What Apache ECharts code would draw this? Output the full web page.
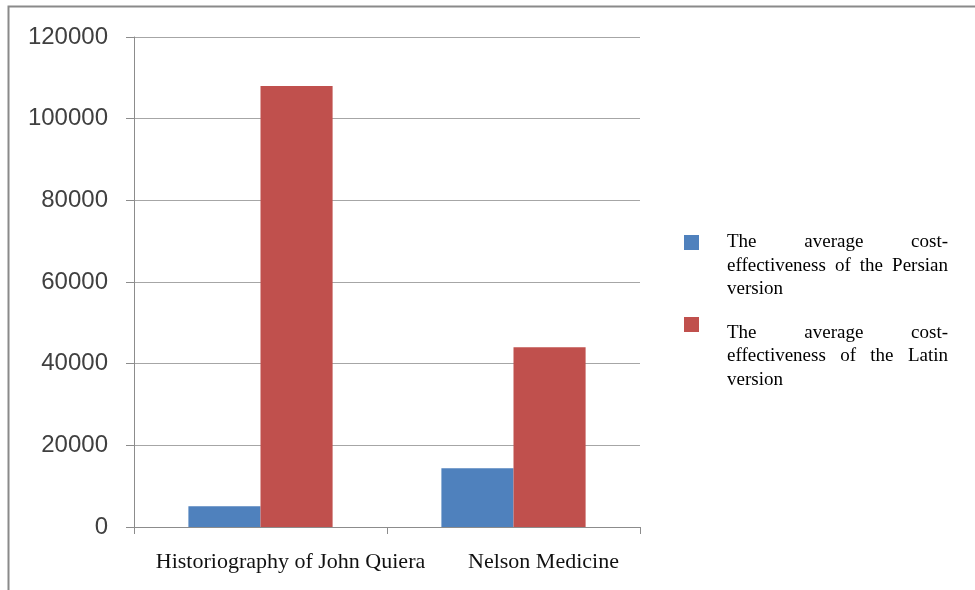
<!DOCTYPE html>
<html>
<head>
<meta charset="utf-8">
<script src="https://cdn.jsdelivr.net/npm/echarts@6/dist/echarts.min.js"></script>
<style>
  html, body { margin: 0; padding: 0; background: #fff; }
  #chart { width: 975px; height: 590px; }
</style>
</head>
<body>
<div id="chart"></div>
<script>
// Books compared
const categories = ['Historiography of John Quiera', 'Nelson Medicine'];
// Average cost-effectiveness per version
const persianValues = [5100, 14400];
const latinValues = [108000, 44000];
// Series names (legend wording)
const persianName = 'The average cost-effectiveness of the Persian version';
const latinName = 'The average cost-effectiveness of the Latin version';
// Value axis ticks
const yTicks = [0, 20000, 40000, 60000, 80000, 100000, 120000];

const SERIF = '"Liberation Serif", "Times New Roman", serif';
const LEGEND_FONT = '19px ' + SERIF;
const LEGEND_WIDTH = 221;
const LEGEND_LINE = 23.5;

// Measure words so legend lines can be justified like a word-processor paragraph
const measureCtx = document.createElement('canvas').getContext('2d');
measureCtx.font = LEGEND_FONT;
function wordWidth(w) { return measureCtx.measureText(w).width; }

// Builds a rich-text string: justified lines, last line left aligned
function justifiedRich(lines, prefix, rich) {
  const out = [];
  lines.forEach((line, li) => {
    const words = line.split(' ');
    const isLast = li === lines.length - 1;
    if (isLast || words.length === 1) {
      const key = prefix + li + 'x';
      rich[key] = {};
      out.push('{' + key + '|' + line + '}');
      return;
    }
    const total = words.reduce((s, w) => s + wordWidth(w), 0);
    const gap = (LEGEND_WIDTH - total) / (words.length - 1);
    let s = '';
    words.forEach((w, wi) => {
      const key = prefix + li + '_' + wi;
      if (wi < words.length - 1) {
        rich[key] = { width: wordWidth(w) + gap, align: 'left' };
      } else {
        rich[key] = {};
      }
      s += '{' + key + '|' + w + '}';
    });
    out.push(s);
  });
  return out.join('\n');
}

const richP = {};
const richL = {};
const persianText = justifiedRich(
  ['The average cost-', 'effectiveness of the Persian', 'version'], 'p', richP);
const latinText = justifiedRich(
  ['The average cost-', 'effectiveness of the Latin', 'version'], 'l', richL);

// One legend block per series: square at iconMid, text starts padTop below block top
function legendFor(name, text, rich, iconMid, padTop) {
  const blockH = padTop + 3 * LEGEND_LINE;
  return {
    data: [name],
    left: 684,
    top: iconMid - blockH / 2,
    orient: 'vertical',
    padding: 0,
    itemWidth: 15,
    itemHeight: 15,
    icon: 'rect',
    selectedMode: false,
    formatter: () => text,
    textStyle: {
      fontFamily: SERIF,
      fontSize: 19,
      lineHeight: LEGEND_LINE,
      color: '#000',
      padding: [padTop, 0, 0, 23],
      rich: Object.fromEntries(Object.entries(rich).map(([k, v]) => [k, Object.assign({
        fontFamily: SERIF,
        fontSize: 19,
        lineHeight: LEGEND_LINE,
        color: '#000'
      }, v)]))
    }
  };
}

const chart = echarts.init(document.getElementById('chart'), null, { renderer: 'canvas' });

chart.setOption({
  animation: false,
  backgroundColor: '#fff',
  graphic: [{
    type: 'rect',
    shape: { x: 8.5, y: 6.5, width: 1200, height: 1200 },
    style: { fill: 'none', stroke: '#8a8a8a', lineWidth: 2 },
    silent: true,
    z: 100
  }],
  grid: { left: 134, right: 335, top: 37, bottom: 63, containLabel: false },
  legend: [
    legendFor(persianName, persianText, richP, 242.5, 47),
    legendFor(latinName, latinText, richL, 324.5, 64)
  ],
  xAxis: {
    type: 'category',
    data: categories,
    boundaryGap: true,
    axisLine: { show: true, lineStyle: { color: '#8c8c8c', width: 1 } },
    axisTick: { show: true, length: 7, alignWithLabel: false, lineStyle: { color: '#8c8c8c' } },
    axisLabel: {
      interval: 0,
      margin: 24,
      padding: [0, 0, 0, 60],
      fontFamily: SERIF,
      fontSize: 22,
      color: '#111'
    },
    splitLine: { show: false }
  },
  yAxis: {
    type: 'value',
    min: yTicks[0],
    max: yTicks[yTicks.length - 1],
    interval: yTicks[1] - yTicks[0],
    axisLine: { show: true, lineStyle: { color: '#8c8c8c', width: 1 } },
    axisTick: { show: true, length: 8, lineStyle: { color: '#8c8c8c' } },
    axisLabel: {
      margin: 26,
      formatter: (v) => String(v),
      fontFamily: '"Liberation Sans", Arial, sans-serif',
      fontSize: 24,
      color: '#404040'
    },
    splitLine: { show: true, lineStyle: { color: '#a6a6a6', width: 1 } }
  },
  series: [
    {
      name: persianName,
      type: 'bar',
      data: persianValues,
      barGap: '0%',
      barCategoryGap: '43%',
      itemStyle: { color: '#4F81BD' }
    },
    {
      name: latinName,
      type: 'bar',
      data: latinValues,
      barGap: '0%',
      barCategoryGap: '43%',
      itemStyle: { color: '#C0504D' }
    }
  ]
});
</script>
</body>
</html>
